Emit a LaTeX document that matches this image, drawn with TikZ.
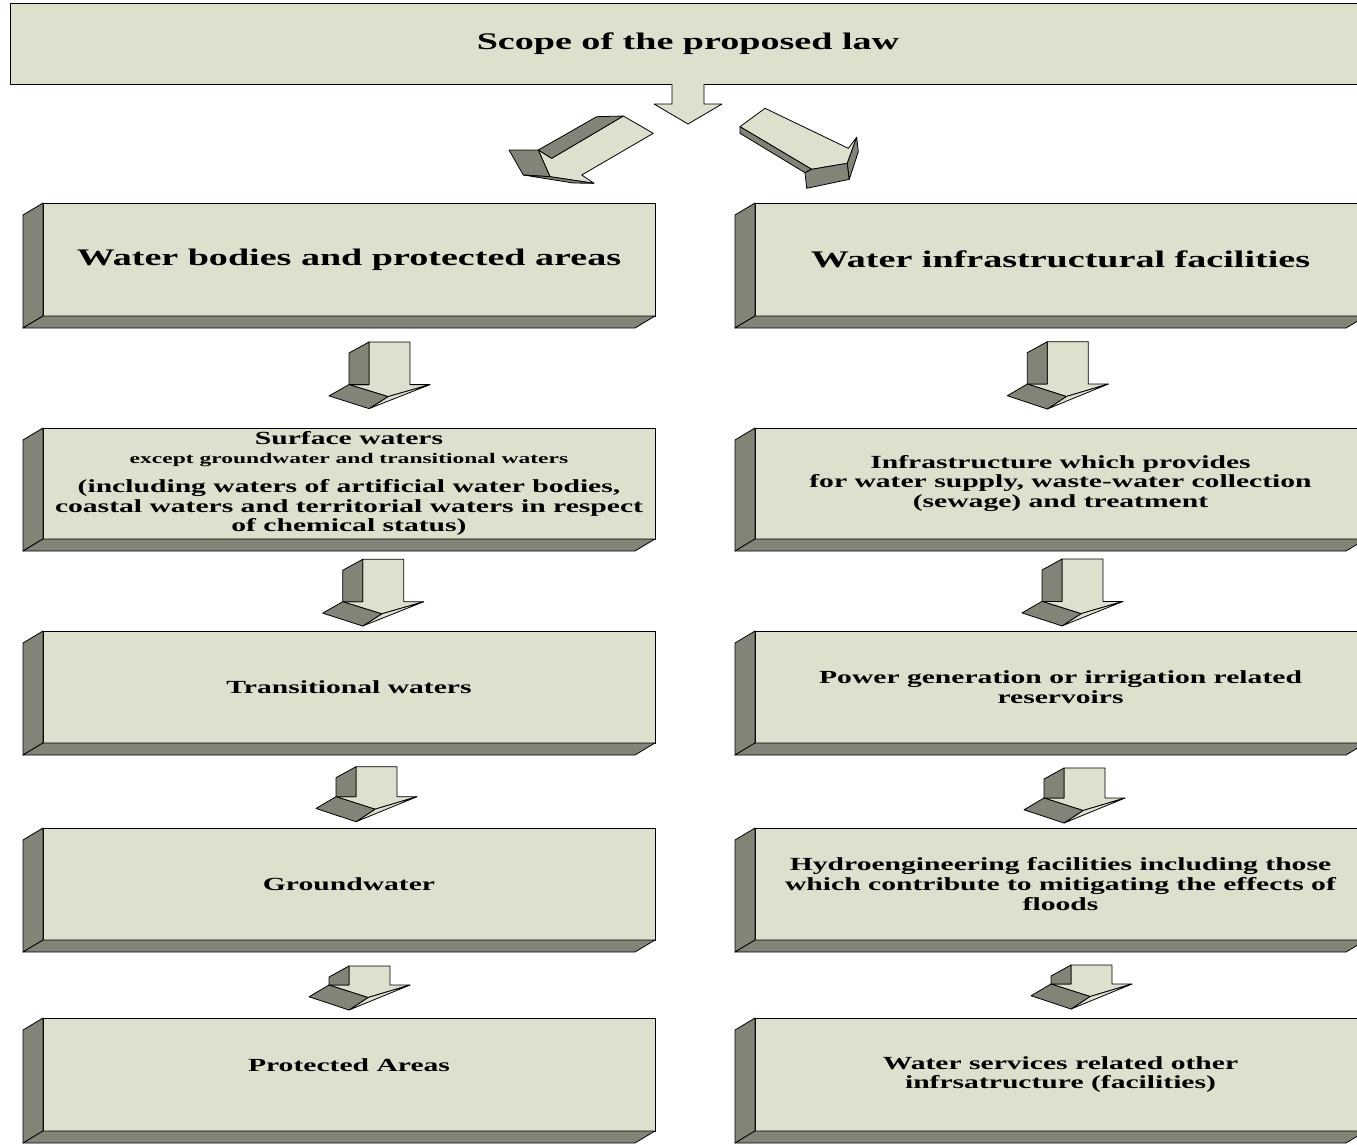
\documentclass[tikz,border=0pt]{standalone}
\usepackage{fontspec}
\newfontfamily\wf{Liberation Serif}[FakeStretch=1.6]
\usetikzlibrary{calc}
\definecolor{boxlight}{RGB}{221,224,205}
\definecolor{boxdark}{RGB}{130,132,120}
\newcommand{\bevelbox}[1]{%
  \draw[sideface] (#1.north west) -- ++(-20,12) -- ($(#1.south west)+(-20,12)$) -- (#1.south west) -- cycle;
  \draw[sideface] (#1.south west) -- ++(-20,12) -- ($(#1.south east)+(-20,12)$) -- (#1.south east) -- cycle;}
% #1 start (shaft top-left), #2 shaft height, #3 tip depth
\newcommand{\blockdown}[3]{%
  \begin{scope}[shift={#1}]
    \draw[liteface] (0,0) -- (41,0) -- (41,#2) -- (61,#2) -- (19,{#2+0.5*#3}) -- (-20,#2) -- (0,#2) -- cycle;
    \draw[sideface] (-20,11) -- (0,0) -- (0,#2) -- (-20,#2) -- cycle;
    \draw[liteface] (19,{#2+0.5*#3}) -- (61,#2) -- (0,{#2+#3}) -- cycle;
    \draw[sideface] (-40,{#2+0.47*#3}) -- (-20,#2) -- (19,{#2+0.5*#3}) -- (0,{#2+#3}) -- cycle;
  \end{scope}}
\begin{document}
\begin{tikzpicture}[x=1pt,y=-1pt,
  face/.style={draw=black, line width=0.8, fill=boxlight, inner sep=0, outer sep=0, align=center,
    font=\wf\bfseries\fontsize{18.5}{19.6}\selectfont},
  headface/.style={face, font=\wf\bfseries\fontsize{23.8}{28}\selectfont},
  sideface/.style={draw=black, line width=0.8, fill=boxdark, line join=round},
  liteface/.style={draw=black, line width=0.8, fill=boxlight, line join=round},
  lcol/.style={minimum width=612},
  rcol/.style={minimum width=611}]
\useasboundingbox (0,0) rectangle (1357,1144);
\clip (0,0) rectangle (1357,1144);

% title box
\node[headface, minimum width=1356, minimum height=81] (T) at (688,43.5) {Scope of the proposed law};

% central down arrow
\begin{scope}[shift={(T.south)}]
  \fill[boxlight] (-16,-1) -- (16,-1) -- (16,20) -- (34,20) -- (0,40) -- (-34,20) -- (-16,20) -- cycle;
  \draw[line width=0.8, line join=round] (-16,0) -- (-16,20) -- (-34,20) -- (0,40) -- (34,20) -- (16,20) -- (16,0);
  % left diagonal block arrow
  \draw[liteface] (-149.7,66) -- (-136.3,74.3) -- (-64.7,32) -- (-34.7,49.3) -- (-106.3,91) -- (-94,99.3) -- (-138,92.7) -- cycle;
  \draw[sideface] (-149.7,66) -- (-91.3,32.7) -- (-64.7,32) -- (-136.3,74.3) -- cycle;
  \draw[sideface] (-179,66) -- (-149.7,66) -- (-138,92.7) -- (-164.7,91) -- cycle;
  \draw[sideface] (-164.7,91) -- (-138,92.7) -- (-94,99.3) -- (-114.7,99) -- cycle;
  % right diagonal block arrow
  \draw[liteface] (52,42.7) -- (77,24.3) -- (160.3,64.3) -- (168.7,53.3) -- (159.3,79.3) -- (123.7,85.3) -- cycle;
  \draw[sideface] (52,42.7) -- (123.7,85.3) -- (117,88.7) -- (52,49.3) -- cycle;
  \draw[sideface] (117,88.7) -- (123.7,85.3) -- (159.3,79.3) -- (161.3,95.3) -- (118.7,104.3) -- cycle;
  \draw[sideface] (159.3,79.3) -- (168.7,53.3) -- (170.3,67.7) -- (161.3,95.3) -- cycle;
\end{scope}

% left column
\node[headface, lcol, minimum height=113] (L1) at (349,259.5) {Water bodies and protected areas};
\node[face, lcol, minimum height=111] (L2) at (349,483.5) {Surface waters\\
  {\fontsize{14.7}{19.6}\selectfont except groundwater and transitional waters}\\[9pt]
  (including waters of artificial water bodies,\\
  coastal waters and territorial waters in respect\\
  of chemical status)};
\node[face, lcol, minimum height=112] (L3) at (349,687) {Transitional waters};
\node[face, lcol, minimum height=112] (L4) at (349,884) {Groundwater};
\node[face, lcol, minimum height=113] (L5) at (349,1074.5) {Protected Areas\\ \mbox{}};

% right column
\node[headface, rcol, minimum height=113] (R1) at (1060.5,259.5) {Water infrastructural facilities};
\node[face, rcol, minimum height=111] (R2) at (1060.5,483.5) {Infrastructure which provides\\
  for water supply, waste-water collection\\(sewage) and treatment};
\node[face, rcol, minimum height=112] (R3) at (1060.5,687) {Power generation or irrigation related\\reservoirs};
\node[face, rcol, minimum height=112] (R4) at (1060.5,884) {Hydroengineering facilities including those\\
  which contribute to mitigating the effects of\\floods};
\node[face, rcol, minimum height=113] (R5) at (1060.5,1074.5) {Water services related other\\infrsatructure (facilities)};

\foreach \b in {L1,L2,L3,L4,L5,R1,R2,R3,R4,R5} {\bevelbox{\b}}

% block arrows between boxes
\blockdown{($(L1.south)+(20,26)$)}{42.6}{24}
\blockdown{($(L2.south)+(13.7,20.3)$)}{42.4}{24.3}
\blockdown{($(L3.south)+(7,23.7)$)}{30}{25}
\blockdown{($(L4.south)+(0,26)$)}{19}{25}
\blockdown{($(R1.south)+(-13.2,25.7)$)}{42.3}{25}
\blockdown{($(R2.south)+(1.5,20)$)}{42.4}{24.5}
\blockdown{($(R3.south)+(3.5,25)$)}{30}{25}
\blockdown{($(R4.south)+(10.5,25)$)}{19}{25}
\end{tikzpicture}
\end{document}
